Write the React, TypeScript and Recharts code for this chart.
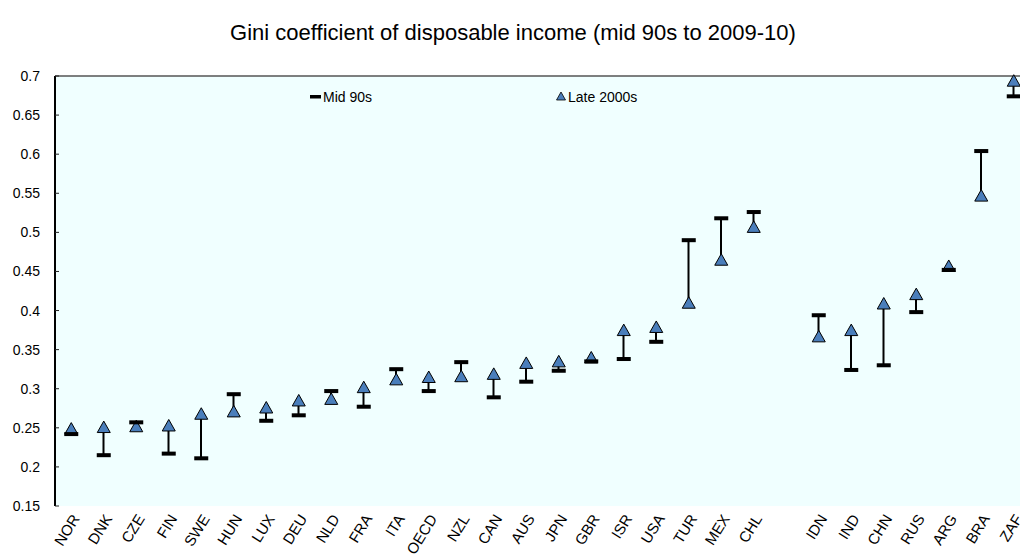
import React from 'react'
import { ComposedChart, XAxis, YAxis, Bar, Line, CartesianGrid, ReferenceLine, Legend } from 'recharts'

const TITLE = 'Gini coefficient of disposable income (mid 90s to 2009-10)'

// '' is the empty slot between OECD countries and the emerging economies
const CODES = ['NOR', 'DNK', 'CZE', 'FIN', 'SWE', 'HUN', 'LUX', 'DEU', 'NLD', 'FRA', 'ITA', 'OECD', 'NZL', 'CAN', 'AUS', 'JPN', 'GBR', 'ISR', 'USA', 'TUR', 'MEX', 'CHL', '', 'IDN', 'IND', 'CHN', 'RUS', 'ARG', 'BRA', 'ZAF']
const MID_90S = [0.242, 0.215, 0.257, 0.217, 0.211, 0.293, 0.259, 0.266, 0.297, 0.277, 0.325, 0.297, 0.334, 0.289, 0.309, 0.323, 0.335, 0.338, 0.36, 0.49, 0.518, 0.526, null, 0.394, 0.324, 0.33, 0.398, 0.452, 0.604, 0.674]
const LATE_2000S = [0.249, 0.251, 0.252, 0.253, 0.268, 0.271, 0.276, 0.285, 0.287, 0.302, 0.312, 0.315, 0.316, 0.319, 0.333, 0.335, 0.34, 0.375, 0.379, 0.41, 0.465, 0.507, null, 0.367, 0.375, 0.409, 0.421, 0.457, 0.547, 0.694]

const Y_TICKS = [0.15, 0.2, 0.25, 0.3, 0.35, 0.4, 0.45, 0.5, 0.55, 0.6, 0.65, 0.7]
// band boundaries, for the small inside tick marks between categories
const BOUNDARY_TICKS = CODES.slice(1).map((_, i) => i + 1)

const BLUE = '#4a7ebb'

const data = CODES.map((code, i) => ({ code, mid: MID_90S[i], late: LATE_2000S[i] }))

function DashDot(props: any) {
  const { cx, cy, value, index } = props
  if (value == null || cx == null || cy == null) return <g key={`d${index}`} />
  return <rect key={`d${index}`} x={cx - 7} y={cy - 2} width={14} height={4} fill="#000" />
}

function TriangleDot(props: any) {
  const { cx, cy, value, index } = props
  if (value == null || cx == null || cy == null) return <g key={`t${index}`} />
  return (
    <polygon
      key={`t${index}`}
      points={`${cx},${cy - 6} ${cx - 6.5},${cy + 5.5} ${cx + 6.5},${cy + 5.5}`}
      fill={BLUE}
      stroke="#000"
      strokeWidth={1}
    />
  )
}

function LegendContent() {
  return (
    <div style={{ position: 'relative', width: 400, height: 18, fontSize: 14, color: '#000', lineHeight: '18px' }}>
      <div style={{ position: 'absolute', left: 0, top: 0, display: 'flex', alignItems: 'center' }}>
        <svg width={14} height={18}><rect x={1} y={7} width={11} height={3.5} fill="#000" /></svg>
        <span>Mid 90s</span>
      </div>
      <div style={{ position: 'absolute', left: 246, top: 0, display: 'flex', alignItems: 'center' }}>
        <svg width={13} height={18}><polygon points="6,4 1.5,12 10.5,12" fill={BLUE} stroke="#000" strokeWidth={0.8} /></svg>
        <span>Late 2000s</span>
      </div>
    </div>
  )
}

export default function App() {
  return (
    <div style={{ position: 'fixed', left: 0, top: 0, width: 1020, height: 555, overflow: 'hidden', background: '#fff', fontFamily: '"Liberation Sans", Arial, sans-serif' }}>
      <div style={{ position: 'absolute', left: 0, top: 20, width: 1026, textAlign: 'center', fontSize: 22, color: '#000' }}>{TITLE}</div>
      <ComposedChart width={1030} height={560} data={data} margin={{ top: 76, right: 0, bottom: 0, left: 0 }}>
        <CartesianGrid xAxisId="b" horizontal={false} vertical={false} fill="#f0ffff" stroke="none" />
        <XAxis
          xAxisId="b"
          type="number"
          domain={[0, CODES.length]}
          ticks={BOUNDARY_TICKS}
          height={0}
          mirror
          tickSize={5}
          tickFormatter={() => ''}
          tickLine={{ stroke: '#222', strokeWidth: 1 }}
          axisLine={{ stroke: '#000', strokeWidth: 2 }}
        />
        <XAxis
          dataKey="code"
          interval={0}
          height={54}
          tickLine={false}
          axisLine={false}
          tickMargin={1}
          tick={{ fontSize: 15, fill: '#000', angle: -58, textAnchor: 'end' } as any}
        />
        <YAxis
          type="number"
          domain={[0.15, 0.7]}
          ticks={Y_TICKS}
          width={55}
          tickSize={-4}
          tickMargin={19}
          tickFormatter={(v: number) => String(+v.toFixed(2))}
          tick={{ fontSize: 14, fill: '#000' }}
          tickLine={{ stroke: '#222', strokeWidth: 1 }}
          axisLine={{ stroke: '#000', strokeWidth: 2 }}
        />
        <ReferenceLine y={0.7} stroke="#555" strokeWidth={1.5} />
        <ReferenceLine xAxisId="b" x={0} stroke="#000" strokeWidth={2} />
        <Legend
          layout="horizontal"
          verticalAlign="middle"
          align="center"
          content={<LegendContent />}
          wrapperStyle={{ position: 'absolute', top: 88, left: 309, width: 400 }}
        />
        <Bar
          dataKey={(d: any) => (d.mid == null ? null : [Math.min(d.mid, d.late), Math.max(d.mid, d.late)])}
          barSize={2}
          fill="#000"
          isAnimationActive={false}
        />
        <Line dataKey="late" stroke="none" dot={<TriangleDot />} activeDot={false} isAnimationActive={false} legendType="none" />
        <Line dataKey="mid" stroke="none" dot={<DashDot />} activeDot={false} isAnimationActive={false} legendType="none" />
      </ComposedChart>
    </div>
  )
}
